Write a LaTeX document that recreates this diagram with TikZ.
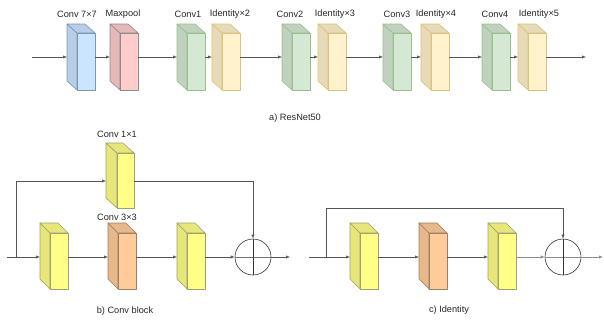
\documentclass[tikz,border=0pt]{standalone}
\usepackage{fontspec}
\setmainfont{Liberation Sans}
\usetikzlibrary{arrows.meta,calc}
\definecolor{lblue}{HTML}{CCE5FF}\definecolor{sblue}{HTML}{B8CEE6}\definecolor{kblue}{HTML}{7A95BE}
\definecolor{lpink}{HTML}{FFCCCC}\definecolor{spink}{HTML}{E6B8B8}\definecolor{kpink}{HTML}{8C8C8C}
\definecolor{lgreen}{HTML}{D5E8D4}\definecolor{sgreen}{HTML}{C0D1BF}\definecolor{kgreen}{HTML}{97C08A}
\definecolor{lyel}{HTML}{FFF2CC}\definecolor{syel}{HTML}{E6DAB8}\definecolor{kyel}{HTML}{DCC27A}
\definecolor{byel}{HTML}{FFFF88}\definecolor{sbyel}{HTML}{E6E67A}\definecolor{kbyel}{HTML}{A0A070}
\definecolor{lor}{HTML}{FFCC99}\definecolor{sor}{HTML}{E6B88A}\definecolor{kor}{HTML}{9A8066}
\definecolor{conn}{HTML}{555555}
\tikzset{
  cubebb/.style={inner sep=0pt,outer sep=0pt,minimum width=28pt,minimum height=#1},
  lbl/.style={font=\fontsize{9.2pt}{10pt}\selectfont,text=black!85,inner sep=0pt},
  conline/.style={draw=conn,line width=0.6pt,-{Latex[length=4pt,width=3.2pt]}},
  plainline/.style={draw=conn,line width=0.6pt},
  sumnode/.style={circle,draw=black!80,line width=0.6pt,minimum size=36pt,inner sep=0pt},
}
% #1 name, #2 position, #3 front, #4 side, #5 stroke, #6 dx, #7 dy, #8 w, #9 h
\newcommand\mycube[9]{%
  \node[cubebb=#7pt+#9pt,minimum width=#6pt+#8pt] (#1) at (#2) {};
  \filldraw[fill=#4,draw=#5,line width=0.6pt,line join=round] (#1.north west) -- ++(#6,#7) -- ++(0,#9) -- ++(-#6,-#7) -- cycle;
  \filldraw[fill=#4,draw=#5,line width=0.6pt,line join=round] (#1.north west) -- ++(#8,0) -- ++(#6,#7) -- ++(-#8,0) -- cycle;
  \filldraw[fill=#3,draw=#5,line width=0.6pt,line join=round] (#1.south east) rectangle ++(-#8,-#9);
}
\begin{document}
\begin{tikzpicture}[x=1pt,y=-1pt]
\useasboundingbox (0,0) rectangle (604,324);
% ---- a) ResNet50 ----
\mycube{a1}{81,57}{lblue}{sblue}{kblue}{10}{9}{18}{57}
\mycube{a2}{124,57}{lpink}{spink}{kpink}{10}{9}{18}{57}
\mycube{a3}{191,57}{lgreen}{sgreen}{kgreen}{10}{9}{18}{57}
\mycube{a4}{226,57}{lyel}{syel}{kyel}{10}{9}{18}{57}
\mycube{a5}{296,57}{lgreen}{sgreen}{kgreen}{10}{9}{18}{57}
\mycube{a6}{332,57}{lyel}{syel}{kyel}{10}{9}{18}{57}
\mycube{a7}{397,57}{lgreen}{sgreen}{kgreen}{10}{9}{18}{57}
\mycube{a8}{435,57}{lyel}{syel}{kyel}{10}{9}{18}{57}
\mycube{a9}{496,57}{lgreen}{sgreen}{kgreen}{10}{9}{18}{57}
\mycube{a10}{532,57}{lyel}{syel}{kyel}{10}{9}{18}{57}
\node[lbl] (t1) at (77,14) {Conv 7×7};
\node[lbl] (t2) at (123,14) {Maxpool};
\node[lbl] (t3) at (188,14) {Conv1};
\node[lbl] (t4) at (230,14) {Identity×2};
\node[lbl] (t5) at (290,14) {Conv2};
\node[lbl] (t6) at (335,14) {Identity×3};
\node[lbl] (t7) at (397,14) {Conv3};
\node[lbl] (t8) at (436,14) {Identity×4};
\node[lbl] (t9) at (495,14) {Conv4};
\node[lbl] (t10) at (539,14) {Identity×5};
\node[lbl] (ta) at (295,118) {a) ResNet50};
\coordinate (ain) at (32,57);
\coordinate (aout) at (586,57);
\draw[conline] (ain) -- (a1.west);
\draw[conline] (a1.east) -- (a2.west);
\draw[conline] (a2.east) -- (a3.west);
\draw[conline] (a3.east) -- (a4.west);
\draw[conline] (a4.east) -- (a5.west);
\draw[conline] (a5.east) -- (a6.west);
\draw[conline] (a6.east) -- (a7.west);
\draw[conline] (a7.east) -- (a8.west);
\draw[conline] (a8.east) -- (a9.west);
\draw[conline] (a9.east) -- (a10.west);
\draw[conline] (a10.east) -- (aout);
% ---- b) Conv block ----
\mycube{b0}{120,175.5}{byel}{sbyel}{kbyel}{11}{10}{17}{55}
\mycube{b1}{54,256}{byel}{sbyel}{kbyel}{10}{10}{18}{56}
\mycube{b2}{122,256}{lor}{sor}{kor}{10}{10}{18}{56}
\mycube{b3}{191,256}{byel}{sbyel}{kbyel}{10}{10}{18}{56}
\node[sumnode] (bs) at (253,257) {};
\draw[draw=black!55,line width=0.5pt] (bs.west) -- (bs.east);
\draw[draw=black!80,line width=0.6pt] (bs.north) -- (bs.south);
\node[lbl] (tb0) at (117,134) {Conv 1×1};
\node[lbl] (tb2) at (117,217) {Conv 3×3};
\node[lbl] (tb) at (125,311) {b) Conv block};
\coordinate (bin) at (7,257);
\coordinate (bsplit) at (16,257);
\coordinate (bup) at (16,181);
\coordinate (bout) at (290,257);
\draw[conline] (bin) -- (b1.west |- bin);
\draw[conline] (bsplit) -- (bup) -- (b0.west |- bup);
\draw[conline] (b0.east |- bup) -| (bs.north);
\draw[conline] (b1.east |- bin) -- (b2.west |- bin);
\draw[conline] (b2.east |- bin) -- (b3.west |- bin);
\draw[conline] (b3.east |- bin) -- (bs.west);
\draw[conline] (bs.east) -- (bout);
% ---- c) Identity ----
\mycube{c1}{364,256}{byel}{sbyel}{kbyel}{10}{10}{18}{56}
\mycube{c2}{433,256}{lor}{sor}{kor}{10}{10}{18}{56}
\mycube{c3}{502,256}{byel}{sbyel}{kbyel}{10}{10}{18}{56}
\node[sumnode] (cs) at (563,257) {};
\draw[draw=black!45,line width=0.5pt] (cs.west) -- (cs.east);
\draw[draw=black!80,line width=0.6pt] (cs.north) -- (cs.south);
\node[lbl] (tc) at (449,310) {c) Identity};
\coordinate (cin) at (309,257);
\coordinate (csplit) at (326,257);
\coordinate (cup) at (326,208);
\coordinate (cout) at (603,257);
\draw[conline] (cin) -- (c1.west |- cin);
\draw[conline] (csplit) -- (cup) -| (cs.north);
\draw[conline] (c1.east |- cin) -- (c2.west |- cin);
\draw[conline] (c2.east |- cin) -- (c3.west |- cin);
\draw[conline,draw=black!45] (c3.east |- cin) -- (cs.west);
\draw[conline,draw=black!45] (cs.east) -- (cout);
\end{tikzpicture}
\end{document}
